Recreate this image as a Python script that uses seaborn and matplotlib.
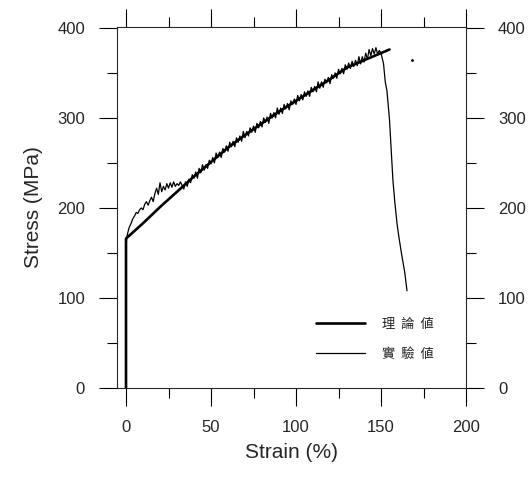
import numpy as np
import pandas as pd
import matplotlib
matplotlib.use('Agg')
import matplotlib.pyplot as plt
from matplotlib.ticker import MultipleLocator
import seaborn as sns

# Theoretical curve (理論値)
theory_strain = [0, 0, 10, 20, 30, 40, 50, 60, 70, 80, 90, 100, 110, 120, 130, 140, 150, 155]
theory_stress = [0, 166, 183, 201, 218, 235, 251, 267, 281, 294, 307, 319, 331, 343, 356, 364, 372, 376]

exp_strain = [0.1, 0.1, 0.5, 1, 1.5, 2, 3, 4, 5, 6, 7, 8, 9, 10, 11, 12, 13, 14, 15, 16,
              17, 18, 19, 20, 21, 22, 23, 24, 25, 26, 27, 28, 29, 30, 31, 32,
              33, 34, 35, 36, 37, 38, 39, 40, 41, 42, 43, 44, 45, 46, 47, 48, 49, 50,
              51, 52, 53, 54, 55, 56, 57, 58, 59, 60, 61, 62, 63, 64, 65, 66, 67, 68, 69, 70,
              71, 72, 73, 74, 75, 76, 77, 78, 79, 80, 81, 82, 83, 84, 85, 86, 87, 88, 89, 90,
              91, 92, 93, 94, 95, 96, 97, 98, 99, 100, 101, 102, 103, 104, 105, 106, 107, 108, 109, 110,
              111, 112, 113, 114, 115, 116, 117, 118, 119, 120, 121, 122, 123, 124, 125, 126, 127, 128, 129, 130,
              131, 132, 133, 134, 135, 136, 137, 138, 139, 140, 141, 142, 143, 144, 145, 146, 147, 148, 149, 150,
              151.5, 152.5, 153.5, 155, 156, 157, 158.2, 159.4, 160.5, 162, 164, 165.3]
exp_stress = [0, 160, 168, 172, 176, 179, 183, 188, 191, 195, 194, 198, 200, 198, 204, 207, 203, 208, 212, 207,
              216, 222, 215, 228, 218, 224, 220, 227, 222, 228, 223, 229, 224, 227, 225, 229,
              225, 221, 229, 224, 232, 228, 237, 233, 240, 233, 244, 239, 248, 242, 248, 244, 253, 249,
              256, 250, 261, 256, 262, 256, 266, 262, 269, 263, 273, 268, 274, 268, 278, 273, 280, 274, 285, 278,
              285, 280, 289, 284, 291, 284, 294, 289, 296, 290, 300, 295, 301, 294, 305, 300, 306, 300, 311, 304,
              311, 305, 315, 310, 316, 309, 319, 315, 321, 315, 325, 319, 326, 320, 329, 324, 330, 324, 334, 329,
              335, 329, 340, 333, 340, 334, 343, 339, 345, 338, 348, 344, 350, 344, 354, 349, 355, 349, 359, 354,
              361, 355, 363, 357, 364, 358, 368, 360, 368, 362, 372, 365, 376, 369, 377, 371, 378, 371, 375, 372,
              360, 340, 330, 298, 265, 231, 205, 183, 168, 150, 128, 108]

# stray dot in the scan
dot_strain = [168]
dot_stress = [364]

sns.set_style('ticks')
plt.rcParams['font.family'] = ['Liberation Sans', 'Noto Sans CJK TC', 'DejaVu Sans']
plt.rcParams['axes.linewidth'] = 0.8

fig = plt.figure(figsize=(5.3, 4.78), dpi=100)
ax = fig.add_axes([117 / 530, 90 / 478, (466 - 117) / 530, (388 - 27) / 478])

df_t = pd.DataFrame({'strain': theory_strain, 'stress': theory_stress})
df_e = pd.DataFrame({'strain': exp_strain, 'stress': exp_stress})

sns.lineplot(data=df_t, x='strain', y='stress', sort=False, estimator=None, color='black',
             linewidth=1.9, label='理  論  値', ax=ax)
sns.lineplot(data=df_e, x='strain', y='stress', sort=False, estimator=None, color='black',
             linewidth=0.9, label='實  驗  値', ax=ax)
sns.scatterplot(x=dot_strain, y=dot_stress, color='black', s=4, linewidth=0, ax=ax)

ax.set_xlim(-5.3, 200)
ax.set_ylim(0, 401)
ax.xaxis.set_major_locator(MultipleLocator(50))
ax.xaxis.set_minor_locator(MultipleLocator(25))
ax.yaxis.set_major_locator(MultipleLocator(100))
ax.yaxis.set_minor_locator(MultipleLocator(50))
ax.tick_params(which='both', direction='out', top=True, right=True, labelright=True,
               width=0.8, color='black', labelsize=12, pad=10)
ax.tick_params(which='major', length=13)
ax.tick_params(which='minor', length=7)

ax.set_xlabel('Strain (%)', fontsize=15, labelpad=6)
ax.set_ylabel('Stress (MPa)', fontsize=15, labelpad=10)

leg = ax.legend(loc='upper left', bbox_to_anchor=(316 / 530, 1 - 318 / 478),
                bbox_transform=fig.transFigure, frameon=False, borderpad=0, borderaxespad=0,
                handlelength=3.7, handletextpad=1.3, labelspacing=1.25,
                prop={'family': ['Noto Sans CJK TC'], 'size': 9.5})

fig.savefig('out.png', dpi=100)
